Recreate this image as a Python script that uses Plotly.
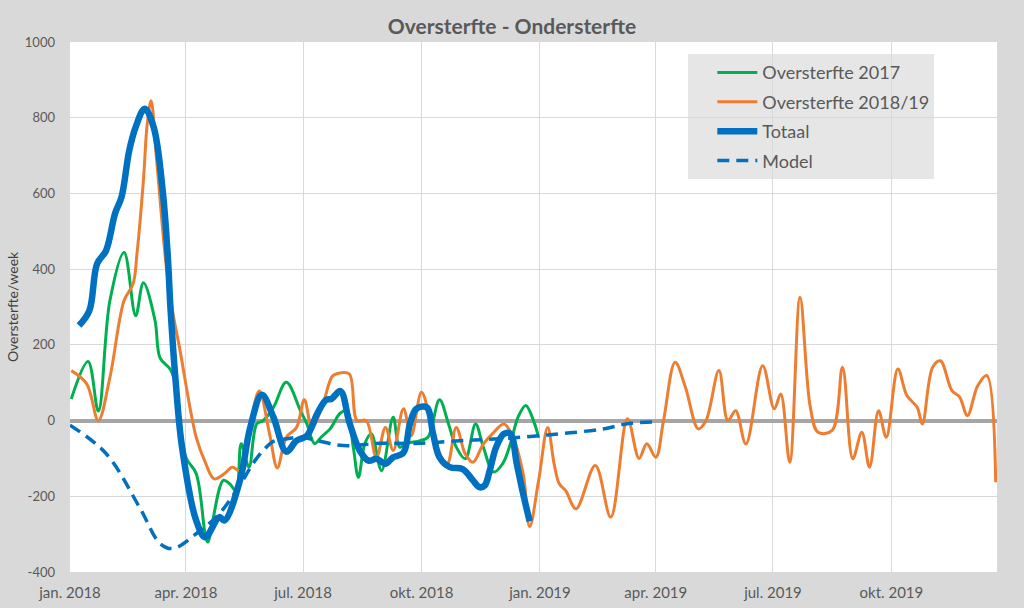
import plotly.graph_objects as go

# ---------------- data ----------------
green_dates = ["2018-01-02", "2018-01-15", "2018-01-23", "2018-02-01", "2018-02-12", "2018-02-21",
               "2018-02-27", "2018-03-08", "2018-03-12", "2018-03-20", "2018-03-24", "2018-04-01",
               "2018-04-09", "2018-04-16", "2018-04-18", "2018-04-30", "2018-05-05", "2018-05-10",
               "2018-05-14", "2018-05-20", "2018-05-26", "2018-05-31", "2018-06-08", "2018-06-18",
               "2018-06-29", "2018-07-04", "2018-07-10", "2018-07-15", "2018-07-22", "2018-07-30",
               "2018-08-04", "2018-08-09", "2018-08-13", "2018-08-18", "2018-08-23", "2018-08-31",
               "2018-09-09", "2018-09-14", "2018-09-19", "2018-09-30", "2018-10-06", "2018-10-15",
               "2018-10-22", "2018-10-28", "2018-11-04", "2018-11-12", "2018-11-18", "2018-11-26",
               "2018-12-03", "2018-12-09", "2018-12-15", "2018-12-21", "2018-12-27", "2018-12-31"]
green_vals = [57, 156, 25, 317, 444, 277,
              364, 265, 165, 135, 95, -97,
              -140, -300, -321, -158, -167, -185,
              -61, -123, -9, 0, 35, 101,
              26, -9, -61, -44, -22, 20,
              26, -70, -150, -61, -35, -132,
              9, -70, -61, -53, -44, 55,
              -9, -70, -101, -9, -70, -136,
              -114, -62, 9, 40, 0, -45]

orange_dates = ["2018-01-02", "2018-01-14", "2018-01-23", "2018-02-01", "2018-02-12", "2018-02-19",
                "2018-02-22", "2018-02-27", "2018-03-02", "2018-03-05", "2018-03-09", "2018-03-17",
                "2018-03-22", "2018-03-27", "2018-04-09", "2018-04-16", "2018-04-23", "2018-05-01",
                "2018-05-07", "2018-05-13", "2018-05-21", "2018-05-28", "2018-06-05", "2018-06-11",
                "2018-06-18", "2018-06-26", "2018-07-02", "2018-07-08", "2018-07-16", "2018-07-24",
                "2018-07-30", "2018-08-06", "2018-08-12", "2018-08-19", "2018-08-27", "2018-09-03",
                "2018-09-09", "2018-09-17", "2018-09-23", "2018-10-01", "2018-10-08", "2018-10-15",
                "2018-10-21", "2018-10-28", "2018-11-04", "2018-11-10", "2018-11-18", "2018-11-25",
                "2018-12-04", "2018-12-10", "2018-12-19", "2018-12-24", "2018-12-31", "2019-01-07",
                "2019-01-12", "2019-01-16", "2019-01-21", "2019-01-29", "2019-02-13", "2019-02-25",
                "2019-03-10", "2019-03-19", "2019-03-25", "2019-04-01", "2019-04-07", "2019-04-16",
                "2019-04-24", "2019-05-04", "2019-05-10", "2019-05-20", "2019-05-27", "2019-06-02",
                "2019-06-10", "2019-06-23", "2019-07-02", "2019-07-07", "2019-07-14", "2019-07-22",
                "2019-07-30", "2019-08-05", "2019-08-16", "2019-08-24", "2019-09-01", "2019-09-08",
                "2019-09-14", "2019-09-21", "2019-09-27", "2019-10-06", "2019-10-13", "2019-10-21",
                "2019-10-25", "2019-11-02", "2019-11-08", "2019-11-17", "2019-11-23", "2019-11-29",
                "2019-12-07", "2019-12-14", "2019-12-21"]
orange_vals = [132, 97, 0, 114, 317, 361,
               440, 634, 784, 845, 700, 400,
               282, 194, -44, -110, -154, -140,
               -123, -132, -10, 78, -35, -125,
               -44, -18, 55, -18, 38, 118,
               126, 123, 0, 0, -97, -18,
               -79, 31, -40, 75, 0, -88,
               -114, -18, -88, -110, -62, -35,
               -9, -35, -141, -280, -158, -18,
               -114, -167, -185, -233, -119, -255,
               5, -100, -61, -97, 0, 154,
               88, -22, 0, 132, 0, 26,
               -62, 145, 31, 70, -110, 326,
               35, -31, -26, 141, -101, -31,
               -123, 26, -44, 136, 66, 35,
               -9, 141, 158, 79, 62, 13,
               92, 119, -163]

totaal_dates = ["2018-01-08", "2018-01-16", "2018-01-22", "2018-01-29", "2018-02-05", "2018-02-10",
                "2018-02-16", "2018-02-21", "2018-02-28", "2018-03-07", "2018-03-14", "2018-03-18",
                "2018-03-20", "2018-03-24", "2018-03-29", "2018-04-09", "2018-04-16", "2018-04-27",
                "2018-05-01", "2018-05-13", "2018-05-21", "2018-05-30", "2018-06-08", "2018-06-18",
                "2018-06-26", "2018-07-04", "2018-07-12", "2018-07-19", "2018-07-23", "2018-07-30",
                "2018-08-06", "2018-08-14", "2018-08-21", "2018-08-27", "2018-09-03", "2018-09-09",
                "2018-09-17", "2018-09-22", "2018-09-27", "2018-10-05", "2018-10-10", "2018-10-15",
                "2018-10-23", "2018-11-02", "2018-11-10", "2018-11-15", "2018-11-19", "2018-11-23",
                "2018-11-28", "2018-12-04", "2018-12-09", "2018-12-14", "2018-12-19", "2018-12-24"]
totaal_vals = [251, 290, 414, 449, 547, 590,
               713, 775, 824, 775, 607, 431,
               299, 106, -70, -264, -308, -255,
               -264, -158, -18, 68, 9, -82,
               -53, -40, 18, 55, 57, 78,
               -5, -79, -106, -101, -114, -97,
               -85, -9, 31, 35, -35, -97,
               -123, -128, -158, -176, -172, -132,
               -70, -35, -35, -114, -194, -266]

model_dates = ["2018-01-01", "2018-01-29", "2018-02-24", "2018-03-12", "2018-03-22", "2018-04-09",
               "2018-04-27", "2018-05-13", "2018-05-23", "2018-05-31", "2018-06-08", "2018-06-15",
               "2018-06-29", "2018-07-12", "2018-08-01", "2018-08-30", "2018-09-30", "2018-10-31",
               "2018-12-01", "2019-01-07", "2019-02-19", "2019-03-12", "2019-04-02"]
model_vals = [-12, -87, -229, -325, -338, -299,
              -246, -170, -114, -79, -55, -50,
              -44, -53, -66, -60, -60, -53,
              -48, -38, -22, -7, -4]

series_names = ["Oversterfte 2017", "Oversterfte 2018/19", "Totaal", "Model"]

x_tickvals = ["2018-01-01", "2018-04-01", "2018-07-01", "2018-10-01",
              "2019-01-01", "2019-04-01", "2019-07-01", "2019-10-01"]
x_ticktext = ["jan. 2018", "apr. 2018", "jul. 2018", "okt. 2018",
              "jan. 2019", "apr. 2019", "jul. 2019", "okt. 2019"]
y_tickvals = [-400, -200, 0, 200, 400, 600, 800, 1000]
y_ticktext = ["-400", "-200", "0", "200", "400", "600", "800", "1000"]

# ---------------- figure ----------------
FONT = "Lato"
GREY_TXT = "#595959"

fig = go.Figure()
fig.add_trace(go.Scatter(x=green_dates, y=green_vals, name=series_names[0], mode="lines",
                         legendgroup="g1",
                         line=dict(color="#00b050", width=3, shape="spline", smoothing=1.0)))
fig.add_trace(go.Scatter(x=orange_dates, y=orange_vals, name=series_names[1], mode="lines",
                         legendgroup="g2",
                         line=dict(color="#ed7d31", width=3, shape="spline", smoothing=1.0)))
fig.add_trace(go.Scatter(x=totaal_dates, y=totaal_vals, name=series_names[2], mode="lines",
                         legendgroup="g3",
                         line=dict(color="#0070c0", width=6.5, shape="spline", smoothing=1.0)))
fig.add_trace(go.Scatter(x=model_dates, y=model_vals, name=series_names[3], mode="lines",
                         legendgroup="g4",
                         line=dict(color="#0070c0", width=3.5, dash="12px,7px",
                                   shape="spline", smoothing=1.0)))

fig.update_layout(
    width=1024, height=608,
    paper_bgcolor="#d9d9d9", plot_bgcolor="#ffffff",
    margin=dict(l=70, r=27, t=42, b=36),
    font=dict(family=FONT, color=GREY_TXT, size=13),
    title=dict(text="<b>Oversterfte - Ondersterfte</b>", x=0.5, xanchor="center",
               y=1 - 27 / 608, yanchor="middle", yref="container",
               font=dict(family=FONT, size=21, color=GREY_TXT)),
    showlegend=True,
    legend=dict(x=0.667, y=0.977, xanchor="left", yanchor="top",
                bgcolor="rgba(217,217,217,0.65)", borderwidth=0,
                font=dict(family=FONT, size=18, color=GREY_TXT),
                tracegroupgap=3, indentation=24, itemwidth=40),
)
fig.update_xaxes(
    type="date", range=["2018-01-01", "2019-12-22"],
    tickmode="array", tickvals=x_tickvals, ticktext=x_ticktext,
    showgrid=True, gridcolor="#d9d9d9", gridwidth=1,
    showline=False, zeroline=False, ticks="", automargin=False,
    tickfont=dict(family=FONT, size=15, color=GREY_TXT), ticklabelstandoff=10,
)
fig.update_yaxes(
    range=[-400, 1000], tickmode="array", tickvals=y_tickvals, ticktext=y_ticktext,
    showgrid=True, gridcolor="#d9d9d9", gridwidth=1,
    zeroline=True, zerolinecolor="#a6a6a6", zerolinewidth=3.5,
    showline=False, ticks="", automargin=False,
    tickfont=dict(family=FONT, size=13, color=GREY_TXT), ticklabelstandoff=14,
    title=dict(text="Oversterfte/week", font=dict(family=FONT, size=14, color="#404040"),
               standoff=2),
)

fig.write_html("out.html", config={"displayModeBar": False},
               post_script="document.body.style.margin='0px';document.body.style.padding='0px';"
                           "document.body.style.overflow='hidden';")
